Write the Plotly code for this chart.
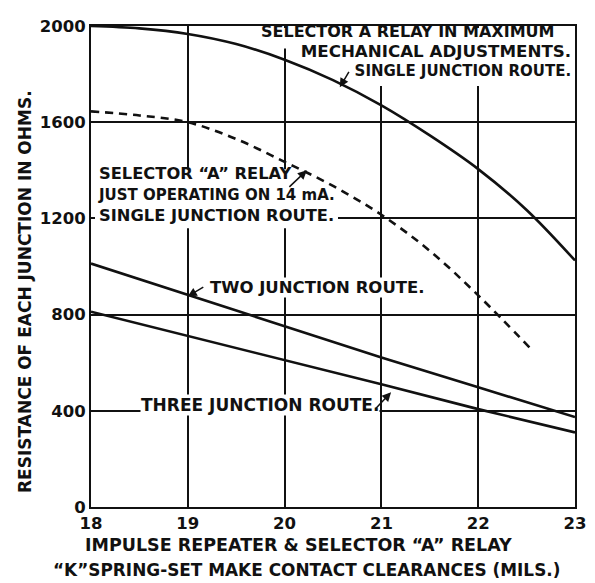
import plotly.graph_objects as go

# ---- data ----
x_max_mech = [18, 18.5, 19, 19.5, 20, 20.5, 21, 21.5, 22, 22.5, 23]
y_max_mech = [2000, 1990, 1967, 1925, 1860, 1775, 1670, 1545, 1405, 1235, 1025]

x_just_op = [18, 18.5, 19, 19.5, 20, 20.5, 21, 21.5, 22, 22.55]
y_just_op = [1645, 1628, 1600, 1530, 1435, 1335, 1215, 1065, 880, 655]

x_two = [18, 19, 20, 21, 22, 23]
y_two = [1012, 882, 752, 622, 498, 374]

x_three = [18, 19, 20, 21, 22, 23]
y_three = [812, 712, 610, 510, 407, 310]

x_ticks = [18, 19, 20, 21, 22, 23]
y_ticks = [0, 400, 800, 1200, 1600, 2000]

FONT = "DejaVu Sans"
INK = "#111111"

# page offset (body margin 8px) compensation: plot area in page px = 91..575 x 17..507
PL, PR, PT, PB = 91, 575, 17, 507
def px2paper_x(px):
    return (px - PL) / (PR - PL)
def px2paper_y(py):
    return (PB - py) / (PB - PT)
def px2x(px):
    return 18 + 5 * px2paper_x(px)
def px2y(py):
    return 2000 * px2paper_y(py)

fig = go.Figure()
fig.add_trace(go.Scatter(x=x_max_mech, y=y_max_mech, mode="lines",
                         line=dict(color=INK, width=2.6, shape="spline")))
fig.add_trace(go.Scatter(x=x_just_op, y=y_just_op, mode="lines",
                         line=dict(color=INK, width=2.6, dash="8px,6px", shape="spline")))
fig.add_trace(go.Scatter(x=x_two, y=y_two, mode="lines",
                         line=dict(color=INK, width=2.6)))
fig.add_trace(go.Scatter(x=x_three, y=y_three, mode="lines",
                         line=dict(color=INK, width=2.6)))

ann = []
def txt(text, x, y, xanchor="left", size=15, align="left", bg="white"):
    ann.append(dict(text=text, x=x, y=y, xref="x", yref="y", xanchor=xanchor,
                    yanchor="middle", showarrow=False, bgcolor=bg,
                    borderpad=0, align=align,
                    font=dict(family=FONT, size=size, color=INK, weight="bold")))

def arrow(x, y, ax, ay):
    ann.append(dict(text="", x=x, y=y, xref="x", yref="y", ax=ax, ay=ay,
                    axref="pixel", ayref="pixel", showarrow=True, arrowhead=2,
                    arrowsize=1.2, arrowwidth=1.5, arrowcolor=INK))

def panel(x0, x1, y0, y1):
    # white panel drawn above the grid but below the curves (page-pixel box)
    return dict(type="rect", xref="x", yref="y", layer="between",
                x0=px2x(x0), x1=px2x(x1), y0=px2y(y1), y1=px2y(y0),
                fillcolor="white", line=dict(width=0))

NOBG = "rgba(0,0,0,0)"

# top-right block
txt('<span style="font-size:16px">SELECTOR A RELAY IN MAXIMUM&nbsp;&nbsp;&nbsp;</span><br>'
    '<span style="font-size:16.7px">MECHANICAL ADJUSTMENTS.</span><br>'
    '<span style="font-size:15px">SINGLE JUNCTION ROUTE.</span>',
    22.97, 1898, "right", 15, "right", NOBG)
arrow(20.57, 1745, 10, -17)

# left block
txt('SELECTOR “A” RELAY<br><span style="font-size:15px">JUST OPERATING ON 14 mA.</span>'
    '<br>SINGLE JUNCTION ROUTE.',
    18.06, 1298, "left", 16.3, "left", NOBG)
arrow(20.23, 1400, -19, 18)

shapes = [
    panel(259, 574, 19, 40),
    panel(301, 574, 39, 78),
    panel(95, 338, 163, 223),
]

# two junction
txt("TWO JUNCTION ROUTE.", 19.22, 914, "left", 16.5)
arrow(19.0, 876, 17, -10)

# three junction
txt("THREE JUNCTION ROUTE.", 18.51, 424, "left", 17)
arrow(21.1, 477, -17, 18)

TF = dict(family=FONT, size=17.5, color=INK, weight="bold")
ann.append(dict(text="IMPULSE REPEATER & SELECTOR “A” RELAY", x=px2paper_x(298),
                y=px2paper_y(546), xref="paper", yref="paper", xanchor="center",
                yanchor="middle", showarrow=False, font=TF))
ann.append(dict(text="“K”SPRING-SET MAKE CONTACT CLEARANCES (MILS.)",
                x=px2paper_x(306), y=px2paper_y(571), xref="paper", yref="paper",
                xanchor="center", yanchor="middle", showarrow=False,
                font=dict(family=FONT, size=16.9, color=INK, weight="bold")))
ann.append(dict(text="RESISTANCE OF EACH JUNCTION IN OHMS.", x=px2paper_x(25),
                y=px2paper_y(288), xref="paper", yref="paper", xanchor="center",
                yanchor="middle", textangle=-90, showarrow=False,
                font=dict(family=FONT, size=17, color=INK, weight="bold")))

TICKF = dict(family=FONT, size=16.5, color=INK, weight="bold")
fig.update_layout(
    width=587, height=575,
    margin=dict(l=83, r=20, t=9, b=76),
    paper_bgcolor="white", plot_bgcolor="white",
    showlegend=False,
    annotations=ann,
    shapes=shapes,
    font=dict(family=FONT, color=INK),
)
fig.update_xaxes(range=[18, 23], tickvals=x_ticks, ticktext=[str(v) for v in x_ticks],
                 showgrid=True, gridcolor=INK, gridwidth=1.6,
                 showline=True, linecolor=INK, linewidth=2, mirror=True,
                 zeroline=False, ticks="", tickfont=TICKF)
fig.update_yaxes(range=[0, 2000], tickvals=y_ticks, ticktext=[str(v) for v in y_ticks],
                 showgrid=True, gridcolor=INK, gridwidth=1.6,
                 showline=True, linecolor=INK, linewidth=2, mirror=True,
                 zeroline=False, ticks="", tickfont=TICKF)

fig.write_html("out.html")
